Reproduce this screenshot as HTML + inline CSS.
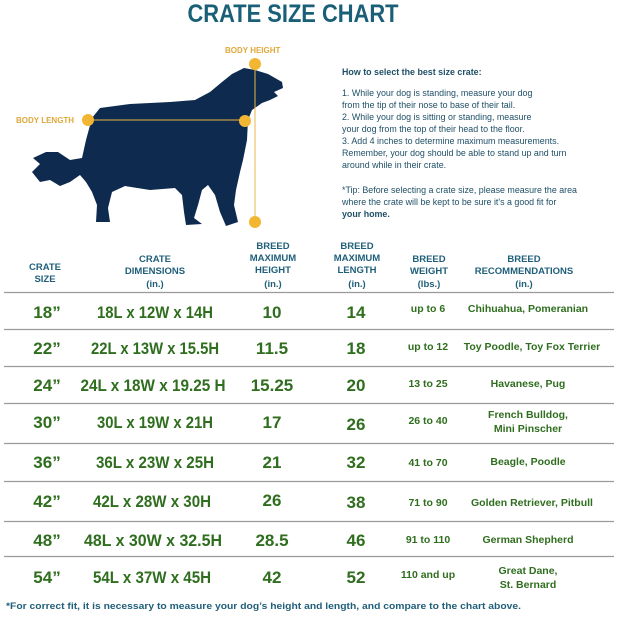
<!DOCTYPE html>
<html><head><style>
body{margin:0;background:#fff;}
svg{display:block;font-family:"Liberation Sans",sans-serif;}
.h{fill:#1f5f7a;font-size:9.5px;font-weight:bold;text-anchor:middle;}
.d{fill:#2f6e1e;font-size:17px;font-weight:bold;text-anchor:middle;}
.s{fill:#2f6e1e;font-size:10.5px;font-weight:bold;text-anchor:middle;}
.t{fill:#1f4f66;font-size:8.9px;}
</style></head><body>
<svg width="617" height="618" viewBox="0 0 617 618">
<text x="293" y="22" text-anchor="middle" font-size="25" font-weight="bold" fill="#1a5f78" textLength="211" lengthAdjust="spacingAndGlyphs">CRATE SIZE CHART</text>
<!-- dog -->
<path fill="#0f2a4f" d="M255,70 L268,74 L282,82 L283,88 L274,92 L278,96 L270,100 L262,103 L252,110 L248,120 L247,140 L243,160 L240,172 L236,190 L234,205 L238,222 L226,226 L220,212 L215,195 L208,185 L202,190 L198,205 L194,218 L202,224 L186,225 L184,212 L182,195 L175,188 L150,190 L125,186 L112,192 L108,208 L110,222 L96,222 L97,205 L92,192 L86,182 L80,175 L70,182 L60,186 L50,180 L40,182 L32,172 L40,164 L33,158 L46,152 L58,152 L70,160 L82,158 L86,140 L92,118 L100,108 L130,104 L170,102 L195,100 L210,92 L222,82 L232,74 L244,68 Z"/>
<line x1="88" y1="120" x2="245" y2="120" stroke="#e8b64a" stroke-width="1"/>
<line x1="255" y1="64" x2="255" y2="222" stroke="#e8b64a" stroke-width="1"/>
<circle cx="88" cy="120" r="6" fill="#f2b632"/>
<circle cx="245" cy="121" r="6" fill="#f2b632"/>
<circle cx="255" cy="64" r="6" fill="#f2b632"/>
<circle cx="255" cy="222" r="6" fill="#f2b632"/>
<text x="16" y="123" font-size="8" fill="#e0a93a" font-weight="bold">BODY LENGTH</text>
<text x="225" y="53" font-size="8" fill="#e0a93a" font-weight="bold">BODY HEIGHT</text>
<!-- text -->
<text class="t" x="342" y="75" font-weight="bold">How to select the best size crate:</text>
<text class="t" x="342" y="96">1. While your dog is standing, measure your dog</text>
<text class="t" x="342" y="108">from the tip of their nose to base of their tail.</text>
<text class="t" x="342" y="120">2. While your dog is sitting or standing, measure</text>
<text class="t" x="342" y="132">your dog from the top of their head to the floor.</text>
<text class="t" x="342" y="144">3. Add 4 inches to determine maximum measurements.</text>
<text class="t" x="342" y="156">Remember, your dog should be able to stand up and turn</text>
<text class="t" x="342" y="168">around while in their crate.</text>
<text class="t" x="342" y="193">*Tip: Before selecting a crate size, please measure the area</text>
<text class="t" x="342" y="205">where the crate will be kept to be sure it's a good fit for</text>
<text class="t" x="342" y="217" font-weight="bold">your home.</text>
<!-- headers -->
<text class="h" x="45" y="270">CRATE</text><text class="h" x="45" y="282">SIZE</text>
<text class="h" x="155" y="262">CRATE</text><text class="h" x="155" y="274">DIMENSIONS</text><text class="h" x="155" y="287">(in.)</text>
<text class="h" x="273" y="249">BREED</text><text class="h" x="273" y="261">MAXIMUM</text><text class="h" x="273" y="273">HEIGHT</text><text class="h" x="273" y="287">(in.)</text>
<text class="h" x="357" y="249">BREED</text><text class="h" x="357" y="261">MAXIMUM</text><text class="h" x="357" y="273">LENGTH</text><text class="h" x="357" y="287">(in.)</text>
<text class="h" x="429" y="262">BREED</text><text class="h" x="429" y="274">WEIGHT</text><text class="h" x="429" y="287">(lbs.)</text>
<text class="h" x="524" y="262">BREED</text><text class="h" x="524" y="274">RECOMMENDATIONS</text><text class="h" x="524" y="287">(in.)</text>
<g stroke="#9a9a9a" stroke-width="1.3">
<line x1="4" y1="292.5" x2="614" y2="292.5"/><line x1="4" y1="329.5" x2="614" y2="329.5"/>
<line x1="4" y1="366.5" x2="614" y2="366.5"/><line x1="4" y1="403.5" x2="614" y2="403.5"/>
<line x1="4" y1="443.5" x2="614" y2="443.5"/><line x1="4" y1="481.5" x2="614" y2="481.5"/>
<line x1="4" y1="521.5" x2="614" y2="521.5"/><line x1="4" y1="556.5" x2="614" y2="556.5"/>
</g>
<g>
<text class="d" x="47" y="318">18”</text><text class="d" x="155" y="318" textLength="116" lengthAdjust="spacingAndGlyphs">18L x 12W x 14H</text><text class="d" x="272" y="318">10</text><text class="d" x="356" y="318">14</text><text class="s" x="428" y="312">up to 6</text><text class="s" x="528" y="312">Chihuahua, Pomeranian</text>
<text class="d" x="47" y="354">22”</text><text class="d" x="155" y="354" textLength="128" lengthAdjust="spacingAndGlyphs">22L x 13W x 15.5H</text><text class="d" x="272" y="354">11.5</text><text class="d" x="356" y="354">18</text><text class="s" x="428" y="350">up to 12</text><text class="s" x="532" y="350">Toy Poodle, Toy Fox Terrier</text>
<text class="d" x="47" y="391">24”</text><text class="d" x="153" y="391" textLength="145" lengthAdjust="spacingAndGlyphs">24L x 18W x 19.25 H</text><text class="d" x="272" y="391">15.25</text><text class="d" x="356" y="391">20</text><text class="s" x="428" y="387">13 to 25</text><text class="s" x="528" y="387">Havanese, Pug</text>
<text class="d" x="47" y="428">30”</text><text class="d" x="155" y="428" textLength="116" lengthAdjust="spacingAndGlyphs">30L x 19W x 21H</text><text class="d" x="272" y="428">17</text><text class="d" x="356" y="430">26</text><text class="s" x="428" y="424">26 to 40</text><text class="s" x="528" y="418">French Bulldog,</text><text class="s" x="528" y="432">Mini Pinscher</text>
<text class="d" x="47" y="468">36”</text><text class="d" x="155" y="468" textLength="118" lengthAdjust="spacingAndGlyphs">36L x 23W x 25H</text><text class="d" x="272" y="468">21</text><text class="d" x="356" y="468">32</text><text class="s" x="428" y="466">41 to 70</text><text class="s" x="528" y="465">Beagle, Poodle</text>
<text class="d" x="47" y="507">42”</text><text class="d" x="152" y="507" textLength="118" lengthAdjust="spacingAndGlyphs">42L x 28W x 30H</text><text class="d" x="272" y="506">26</text><text class="d" x="356" y="508">38</text><text class="s" x="428" y="506">71 to 90</text><text class="s" x="532" y="506">Golden Retriever, Pitbull</text>
<text class="d" x="47" y="546">48”</text><text class="d" x="153" y="546" textLength="138" lengthAdjust="spacingAndGlyphs">48L x 30W x 32.5H</text><text class="d" x="272" y="546">28.5</text><text class="d" x="356" y="546">46</text><text class="s" x="428" y="543">91 to 110</text><text class="s" x="528" y="543">German Shepherd</text>
<text class="d" x="47" y="583">54”</text><text class="d" x="152" y="583" textLength="118" lengthAdjust="spacingAndGlyphs">54L x 37W x 45H</text><text class="d" x="272" y="583">42</text><text class="d" x="356" y="583">52</text><text class="s" x="428" y="578">110 and up</text><text class="s" x="528" y="574">Great Dane,</text><text class="s" x="528" y="588">St. Bernard</text>
</g>
<text x="6" y="609" font-size="9.5" font-weight="bold" fill="#1f5f7a" textLength="515" lengthAdjust="spacingAndGlyphs">*For correct fit, it is necessary to measure your dog’s height and length, and compare to the chart above.</text>
</svg>
</body></html>
